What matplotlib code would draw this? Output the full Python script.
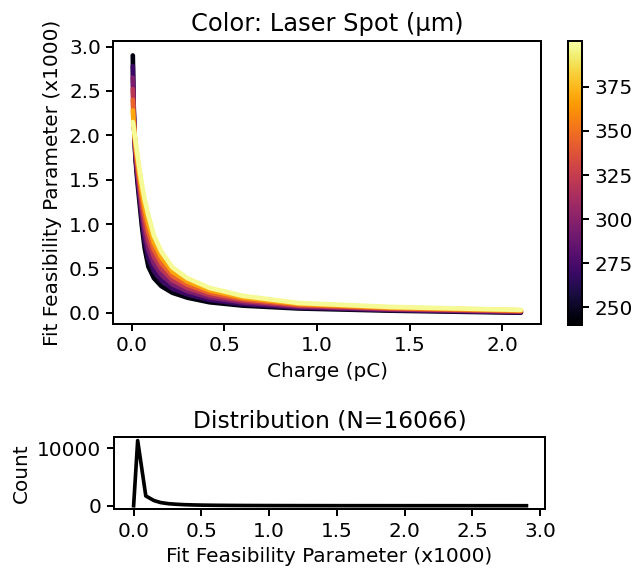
import numpy as np
import matplotlib
matplotlib.use("Agg")
import matplotlib.pyplot as plt
from matplotlib import cm, colors

charge = [0.006, 0.01, 0.015, 0.02, 0.03, 0.04, 0.055, 0.07, 0.09, 0.12,
          0.16, 0.22, 0.3, 0.42, 0.6, 0.9, 1.4, 2.1]

# laser spot levels (um) and the fit feasibility parameter (x1000) read for each
spot_levels = [245, 270, 295, 320, 345, 370, 398]
ffp_245 = [2.9, 2.4, 2.0, 1.75, 1.5, 1.29, 0.98, 0.73, 0.52, 0.39, 0.30, 0.225, 0.17, 0.118, 0.08, 0.048, 0.023, 0.0]
ffp_270 = [2.78, 2.35, 2.0, 1.78, 1.55, 1.35, 1.06, 0.82, 0.62, 0.47, 0.365, 0.27, 0.207, 0.145, 0.098, 0.058, 0.03, 0.005]
ffp_295 = [2.65, 2.3, 2.01, 1.82, 1.6, 1.41, 1.14, 0.91, 0.71, 0.55, 0.43, 0.32, 0.243, 0.172, 0.117, 0.069, 0.037, 0.011]
ffp_320 = [2.52, 2.25, 2.01, 1.85, 1.65, 1.47, 1.215, 1.0, 0.81, 0.63, 0.495, 0.367, 0.28, 0.199, 0.135, 0.079, 0.044, 0.016]
ffp_345 = [2.4, 2.2, 2.01, 1.88, 1.7, 1.53, 1.29, 1.1, 0.91, 0.71, 0.56, 0.415, 0.317, 0.226, 0.153, 0.089, 0.051, 0.021]
ffp_370 = [2.28, 2.15, 2.02, 1.92, 1.75, 1.59, 1.37, 1.19, 1.0, 0.79, 0.625, 0.462, 0.353, 0.253, 0.172, 0.1, 0.058, 0.027]
ffp_398 = [2.15, 2.1, 2.02, 1.95, 1.8, 1.65, 1.45, 1.28, 1.1, 0.87, 0.69, 0.51, 0.39, 0.28, 0.19, 0.11, 0.065, 0.032]
ffp_curves = [ffp_245, ffp_270, ffp_295, ffp_320, ffp_345, ffp_370, ffp_398]
spot_min, spot_max = 240, 401

# distribution of the fit feasibility parameter
hist_x = [0.0, 0.03, 0.09, 0.15, 0.2, 0.26, 0.32, 0.38, 0.44, 0.5, 0.6, 0.7,
          0.8, 1.0, 1.2, 1.5, 2.0, 2.5, 2.9]
hist_counts = [0, 11300, 1700, 900, 550, 350, 250, 180, 140, 110, 80, 60,
               45, 30, 20, 12, 8, 5, 3]
n_total = 16066

plt.rcParams['font.size'] = 12
plt.rcParams['axes.linewidth'] = 1.2
plt.rcParams['xtick.major.width'] = 1.2
plt.rcParams['ytick.major.width'] = 1.2
plt.rcParams['xtick.major.size'] = 4
plt.rcParams['ytick.major.size'] = 4

fig = plt.figure(figsize=(5.3, 4.75), dpi=120)
ax = fig.add_axes([0.1782, 0.4316, 0.672, 0.4965])
cax = fig.add_axes([0.8936, 0.4298, 0.022, 0.4982])
ax2 = fig.add_axes([0.1792, 0.1070, 0.6777, 0.1258])

cmap = plt.get_cmap('inferno')
norm = colors.Normalize(vmin=spot_min, vmax=spot_max)

for spot, ffp in zip(spot_levels, ffp_curves):
    ax.plot(charge, ffp, color=cmap(norm(spot)), lw=2.8,
            solid_capstyle='round', solid_joinstyle='round')

ax.set_xlim(-0.099, 2.207)
ax.set_ylim(-0.127, 3.063)
ax.set_xlabel('Charge (pC)')
ax.set_ylabel('Fit Feasibility Parameter (x1000)')
ax.set_title('Color: Laser Spot (µm)', fontsize=14.5)

sm = cm.ScalarMappable(norm=norm, cmap=cmap)
cb = fig.colorbar(sm, cax=cax)
cb.set_ticks([250, 275, 300, 325, 350, 375])

ax2.plot(hist_x, hist_counts, color='black', lw=2.2)
ax2.set_xlim(-0.145, 3.037)
ax2.set_ylim(-565, 11865)
ax2.set_yticks([0, 10000])
ax2.set_xlabel('Fit Feasibility Parameter (x1000)')
ax2.set_ylabel('Count')
ax2.set_title('Distribution (N={})'.format(n_total), fontsize=14)

fig.savefig('out.png', dpi=120)
